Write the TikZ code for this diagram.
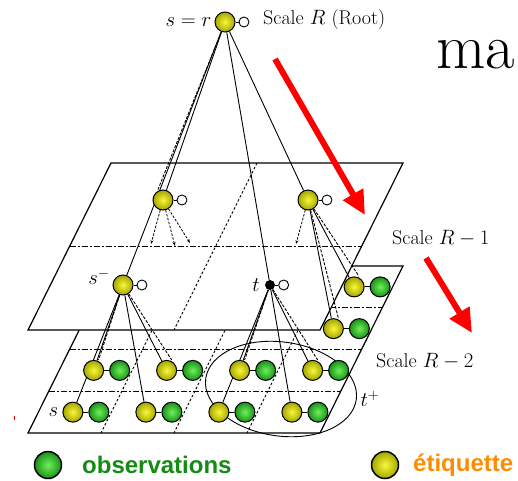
\documentclass[tikz,border=0pt]{standalone}
\usepackage{fontspec}
\newfontfamily\legendfont{Liberation Sans}
\usepackage{tikz}
\usetikzlibrary{arrows.meta,positioning}
\pgfdeclarelayer{planes}
\pgfdeclarelayer{links}
\pgfsetlayers{planes,links,main}
\definecolor{obsgreen}{RGB}{20,140,20}
\definecolor{etiqorange}{RGB}{255,140,0}
\definecolor{yelin}{RGB}{248,248,60}
\definecolor{yelout}{RGB}{165,165,0}
\definecolor{grnin}{RGB}{110,240,90}
\definecolor{grnout}{RGB}{25,145,25}
\tikzset{
  lab/.style      = {circle, draw=black, line width=1pt,
                     inner color=yelin, outer color=yelout,
                     minimum size=20pt, inner sep=0pt},
  obs/.style      = {circle, draw=black, line width=1pt,
                     inner color=grnin, outer color=grnout,
                     minimum size=20pt, inner sep=0pt},
  hid/.style      = {circle, draw=black, fill=white, line width=0.9pt,
                     minimum size=10pt, inner sep=0pt},
  blk/.style      = {circle, fill=black, minimum size=10pt, inner sep=0pt},
  plane/.style    = {draw=black, fill=white, line width=1.2pt},
  rowline/.style  = {line width=1pt, dash pattern=on 6pt off 2pt on 2pt off 2pt},
  colline/.style  = {line width=0.9pt, dash pattern=on 2.5pt off 2pt},
  tree/.style     = {line width=0.9pt},
  treed/.style    = {line width=0.9pt, dash pattern=on 3pt off 1.5pt},
  cut/.style      = {line width=0.8pt, dash pattern=on 2.5pt off 1.5pt,
                     -{Stealth[length=4pt]}},
  bond/.style     = {line width=1pt},
  flow/.style     = {red, line width=6pt, -{Triangle[length=24pt, width=22pt]}},
  scalelbl/.style = {font=\fontsize{20}{24}\selectfont, inner sep=0pt},
  leglbl/.style   = {font=\legendfont\bfseries\fontsize{24}{28}\selectfont, inner sep=0pt},
}

\begin{document}
\begin{tikzpicture}[x=1pt, y=-1pt]
  \useasboundingbox (0,0) rectangle (518,480);

  % the two scales as slanted planes
  \begin{pgfonlayer}{planes}
    \draw[plane] (111,266) -- (403,266) -- (320,433) -- (28,433) -- cycle;
    \foreach \r in {1,2,3} {
      \pgfmathsetmacro{\yy}{266+41.75*\r}
      \pgfmathsetmacro{\xl}{111-41.75*\r*0.497}
      \draw[rowline] (\xl,\yy) -- ++(292,0);
    }
    \foreach \c in {1,2,3}
      \draw[colline] (111+73*\c,266) -- (28+73*\c,433);
    \draw[plane] (111,163) -- (403,163) -- (320,330) -- (28,330) -- cycle;
    \draw[rowline] (69.5,246.75) -- ++(292,0);
    \draw[colline] (257,163) -- (174,330);
  \end{pgfonlayer}

  % root and scale R-1
  \node[lab] (root) at (225,22) {};
  \node[hid, right=3pt of root] (rootx) {};
  \draw[bond] (root) -- (rootx);
  \node[lab] (A) at (163,200) {};
  \node[lab] (B) at (308,200) {};
  \node[lab] (sm) at (123,285) {};
  \node[blk] (t) at (270,285) {};
  \foreach \n in {A,B,sm,t} {
    \node[hid, right=3pt of \n] (\n x) {};
    \draw[bond] (\n) -- (\n x);
  }

  % scale R-2 (visible cells only)
  \foreach \r/\c in {1/4,2/4,3/1,3/2,3/3,3/4,4/1,4/2,4/3,4/4} {
    \pgfmathsetmacro{\yy}{266+(\r-0.5)*41.75}
    \pgfmathsetmacro{\xx}{111-(\yy-266)*0.497+(\c-0.5)*73-2}
    \node[lab] (y\r\c) at (\xx,\yy) {};
    \node[obs, right=5pt of y\r\c] (g\r\c) {};
    \draw[bond] (y\r\c) -- (g\r\c);
  }

  % labels
  \node[scalelbl, left=3pt of root] (rootlbl) {$s=r$};
  \node[scalelbl, anchor=west] (scR) at (263,20) {Scale $R$ (Root)};
  \node[scalelbl, anchor=west] (scR1) at (392,238) {Scale $R-1$};
  \node[scalelbl, anchor=west] (scR2) at (376,361) {Scale $R-2$};
  \node[scalelbl] (smlbl) at (99,277) {$s^-$};
  \node[scalelbl, left=5pt of t] (tlbl) {$t$};
  \node[scalelbl, left=4pt of y41] (slbl) {$s$};
  \node[scalelbl] (tplbl) at (370,399) {$t^+$};
  \node[anchor=base west, font=\fontsize{64}{64}\selectfont, inner sep=0pt]
    (ma) at (436,68) {ma};

  % quadtree links
  \begin{pgfonlayer}{links}
    \draw[tree] (root) -- (A);
    \draw[treed] ([xshift=-4pt]root.south) -- ([xshift=-5pt]A.north);
    \draw[tree] (root) -- (sm);
    \draw[tree] (root) -- (t);
    \draw[tree] (root) -- (B);
    \foreach \p/\k in {sm/31,sm/32,sm/41,sm/42,t/33,t/34,t/43,t/44,B/14,B/24}
      \draw[tree] (\p) -- (y\k);
    \foreach \p/\k in {sm/31,sm/32,t/33,t/34,B/14,B/24}
      \draw[treed] (\p) -- ([xshift=5pt]y\k.north);
    \coordinate (a1) at (151,244);
    \coordinate (a2) at (175,246);
    \coordinate (a3) at (190,243);
    \coordinate (b1) at (296,244);
    \foreach \e in {a1,a2,a3}
      \draw[cut] (A) -- (\e);
    \draw[cut] (B) -- (b1);
    \draw[tree, rotate around={-8:(281,389)}]
      (281,389) ellipse [x radius=76pt, y radius=47pt];
  \end{pgfonlayer}

  % flow between scales
  \coordinate (f1s) at (275,59);
  \coordinate (f1e) at (365,215);
  \coordinate (f2s) at (426,258);
  \coordinate (f2e) at (472,333);
  \draw[flow] (f1s) -- (f1e);
  \draw[flow] (f2s) -- (f2e);
  \draw[red, line width=1pt] (14,416) -- (14,420);

  % legend
  \node[obs, minimum size=27pt, line width=1.5pt] (legobs) at (48,465) {};
  \node[leglbl, text=obsgreen, anchor=west] (legobslbl) at (82,465) {observations};
  \node[lab, minimum size=27pt, line width=1.5pt] (leglab) at (385,465) {};
  \node[leglbl, text=etiqorange, anchor=west] (leglablbl) at (413,465) {étiquette};
\end{tikzpicture}
\end{document}
